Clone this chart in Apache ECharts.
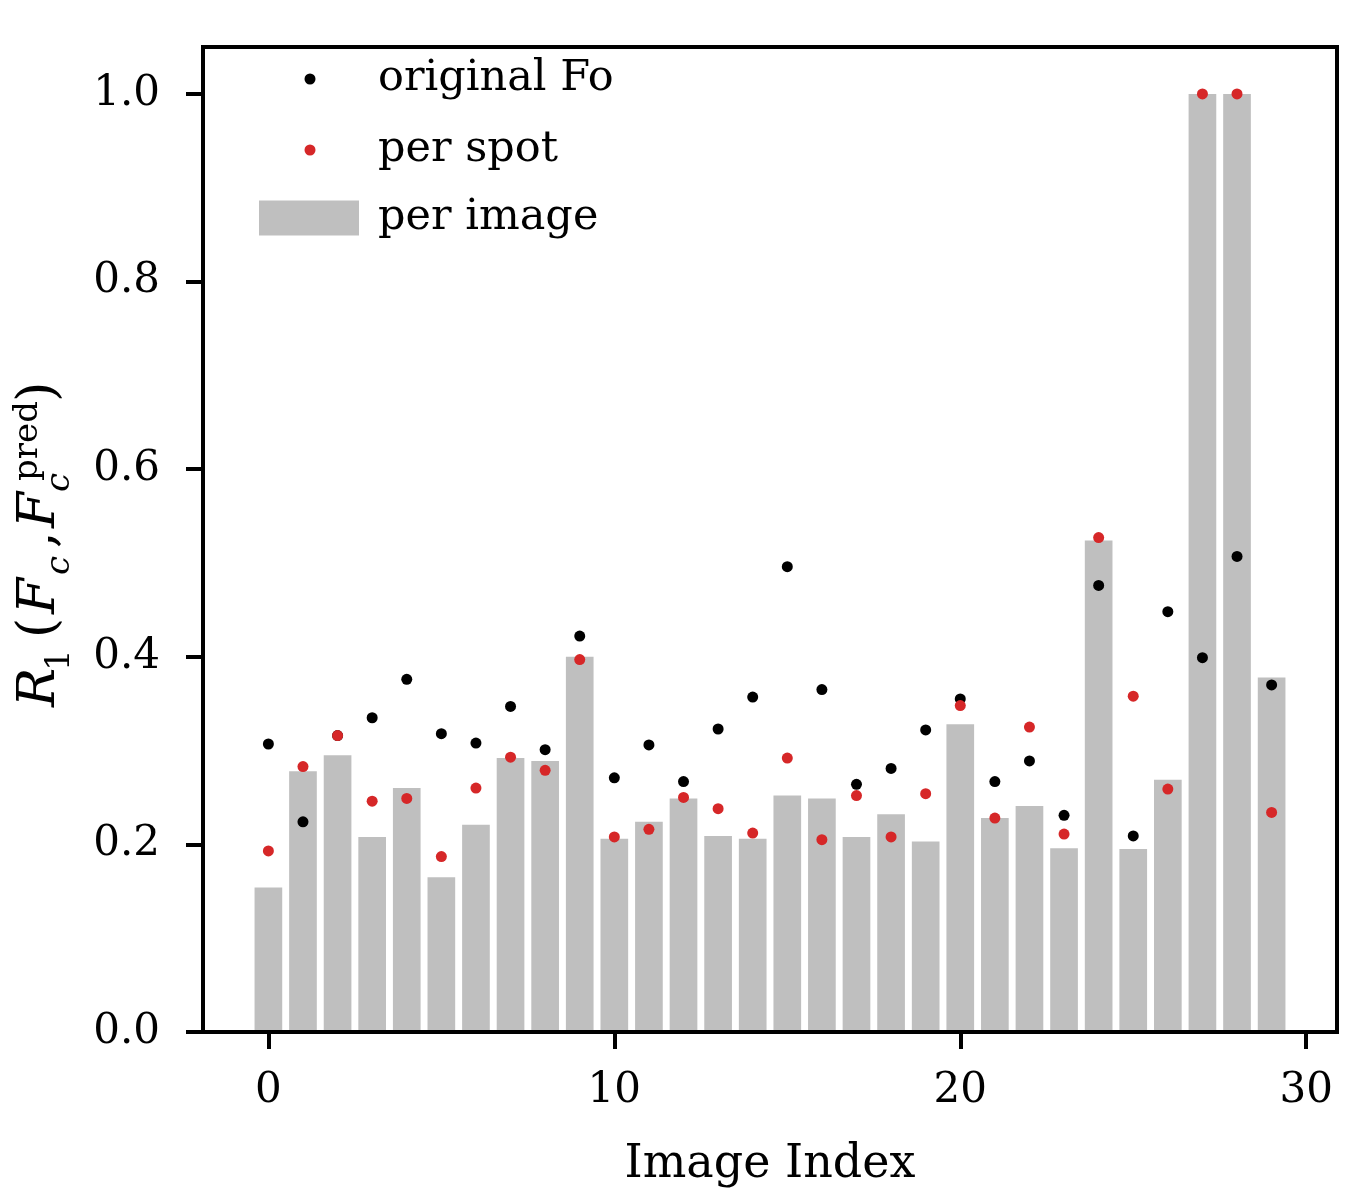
<!DOCTYPE html>
<html>
<head>
<meta charset="utf-8">
<script src="https://cdn.jsdelivr.net/npm/echarts@6/dist/echarts.min.js"></script>
<style>
  * { margin: 0; padding: 0; }
  html, body { width: 1350px; height: 1200px; background: #fff; }
  #chart { width: 1350px; height: 1200px; }
</style>
</head>
<body>
<div id="chart"></div>
<script>
// image index 0..29
var imageIndex = []
for (var i = 0; i < 30; i++) imageIndex.push(i)

// per image R1 (grey bars)
var perImage = [0.154, 0.278, 0.295, 0.208, 0.260, 0.165, 0.221, 0.292, 0.289, 0.400,
  0.206, 0.224, 0.249, 0.209, 0.206, 0.252, 0.249, 0.208, 0.232, 0.203,
  0.328, 0.228, 0.241, 0.196, 0.524, 0.195, 0.269, 1.000, 1.000, 0.378]

// original Fo (black dots)
var originalFo = [0.307, 0.224, 0.316, 0.335, 0.376, 0.318, 0.308, 0.347, 0.301, 0.422,
  0.271, 0.306, 0.267, 0.323, 0.357, 0.496, 0.365, 0.264, 0.281, 0.322,
  0.355, 0.267, 0.289, 0.231, 0.476, 0.209, 0.448, 0.399, 0.507, 0.370]

// per spot (red dots)
var perSpot = [0.193, 0.283, 0.316, 0.246, 0.249, 0.187, 0.260, 0.293, 0.279, 0.397,
  0.208, 0.216, 0.250, 0.238, 0.212, 0.292, 0.205, 0.252, 0.208, 0.254,
  0.348, 0.228, 0.325, 0.211, 0.527, 0.358, 0.259, 1.000, 1.000, 0.234]

var xTicks = [0, 10, 20, 30]
var yTicks = [0, 0.2, 0.4, 0.6, 0.8, 1.0]

var xMin = -1.89, xMax = 30.89
var gridLeft = 203, gridRight = 13
var FONT = '"DejaVu Serif", serif'

function pairs(ys) {
  return imageIndex.map(function (x, i) { return [x, ys[i]] })
}

var chart = echarts.init(document.getElementById('chart'))
var plotWidth = 1350 - gridLeft - gridRight
var barPx = plotWidth / (xMax - xMin) * 0.8

// y label R_1(F_c, F_c^pred), built from pieces and rotated
function piece(text, x, y, size, italic) {
  return {
    type: 'text',
    x: x,
    y: y,
    style: {
      text: text,
      fill: '#000',
      font: (italic ? 'italic ' : '') + size + 'px ' + FONT,
      align: 'left',
      verticalAlign: 'middle'
    }
  }
}

var legendText = { fontFamily: FONT, fontSize: 43, color: '#000', lineHeight: 50 }

var options = {
  animation: false,
  backgroundColor: '#fff',
  grid: {
    left: gridLeft,
    right: gridRight,
    top: 47,
    bottom: 168,
    show: true,
    borderColor: '#000',
    borderWidth: 4,
    backgroundColor: 'transparent'
  },
  legend: [
    {
      data: ['original Fo'],
      left: 299.5,
      top: 45,
      icon: 'circle',
      itemWidth: 11,
      itemHeight: 11,
      selectedMode: false,
      textStyle: Object.assign({ padding: [8, 0, 0, 57.5] }, legendText)
    },
    {
      data: ['per spot'],
      left: 299.5,
      top: 116,
      icon: 'circle',
      itemWidth: 11,
      itemHeight: 11,
      selectedMode: false,
      textStyle: Object.assign({ padding: [8, 0, 0, 57.5] }, legendText)
    },
    {
      data: ['per image'],
      left: 254,
      top: 184,
      icon: 'rect',
      itemWidth: 100,
      itemHeight: 35,
      selectedMode: false,
      textStyle: Object.assign({ padding: [8, 0, 0, 14] }, legendText)
    }
  ],
  xAxis: {
    type: 'value',
    min: xMin,
    max: xMax,
    z: 5,
    name: 'Image Index',
    nameLocation: 'middle',
    nameGap: 110,
    nameTextStyle: { fontFamily: FONT, fontSize: 46, color: '#000' },
    splitLine: { show: false },
    axisLine: { show: true, onZero: false, lineStyle: { color: '#000', width: 4 } },
    axisTick: { show: true, length: 17, customValues: xTicks, lineStyle: { color: '#000', width: 4 } },
    axisLabel: {
      customValues: xTicks,
      margin: 38,
      fontFamily: FONT,
      fontSize: 42,
      color: '#000'
    }
  },
  yAxis: {
    type: 'value',
    min: 0,
    max: 1.05,
    z: 5,
    splitLine: { show: false },
    axisLine: { show: true, onZero: false, lineStyle: { color: '#000', width: 4 } },
    axisTick: { show: true, length: 17, customValues: yTicks, lineStyle: { color: '#000', width: 4 } },
    axisLabel: {
      customValues: yTicks,
      margin: 43,
      fontFamily: FONT,
      fontSize: 42,
      color: '#000',
      formatter: function (v) { return v.toFixed(1) }
    }
  },
  graphic: [
    {
      type: 'group',
      x: 40,
      y: 550,
      rotation: Math.PI / 2,
      children: [
        piece('R', -157, 0, 52, true),
        piece('1', -121, 20, 34, false),
        piece('(', -88, 0, 52, false),
        piece('F', -64, 0, 52, true),
        piece('c', -25, 20, 34, true),
        piece(',', 2, 0, 52, false),
        piece('F', 22, 0, 52, true),
        piece('c', 58, 20, 34, true),
        piece('pred', 69, -12, 34, false),
        piece(')', 148, 0, 52, false)
      ]
    }
  ],
  series: [
    {
      name: 'per image',
      type: 'bar',
      barWidth: barPx,
      itemStyle: { color: '#bfbfbf' },
      data: pairs(perImage),
      z: 1
    },
    {
      name: 'original Fo',
      type: 'scatter',
      symbol: 'circle',
      symbolSize: 11,
      itemStyle: { color: '#000000', opacity: 1 },
      data: pairs(originalFo),
      z: 3
    },
    {
      name: 'per spot',
      type: 'scatter',
      symbol: 'circle',
      symbolSize: 11,
      itemStyle: { color: '#d62728', opacity: 1 },
      data: pairs(perSpot),
      z: 4
    }
  ]
}

chart.setOption(options)
window.addEventListener('resize', function () {
  chart.resize()
}, false)
</script>
</body>
</html>
